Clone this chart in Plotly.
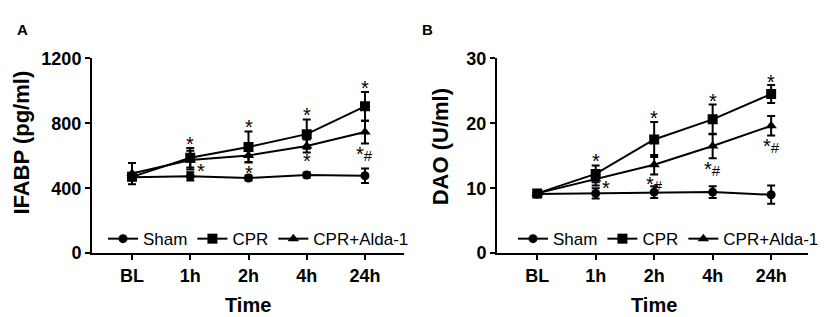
import plotly.graph_objects as go

time_labels = ["BL", "1h", "2h", "4h", "24h"]
xpos = [0, 1, 2, 3, 4]

# Panel A: IFABP (pg/ml)
ifabp_sham = [467, 473, 463, 481, 477]
ifabp_sham_err = [15, 25, 15, 15, 45]
ifabp_cpr = [470, 587, 654, 733, 904]
ifabp_cpr_err = [20, 60, 95, 90, 88]
ifabp_alda = [490, 573, 602, 660, 746]
ifabp_alda_err = [65, 58, 40, 40, 70]

# Panel B: DAO (U/ml)
dao_sham = [9.1, 9.2, 9.4, 9.4, 9.0]
dao_sham_err = [0.5, 0.8, 0.9, 0.9, 1.4]
dao_cpr = [9.2, 12.2, 17.5, 20.6, 24.5]
dao_cpr_err = [0.5, 1.3, 2.7, 2.3, 1.4]
dao_alda = [9.2, 11.4, 13.6, 16.5, 19.6]
dao_alda_err = [0.5, 1.0, 1.5, 1.9, 1.5]

# Significance labels (x, y, text)
ifabp_sig = [(1, 688, "*"), (1.18, 525, "*"), (2, 794, "*"), (2, 515, "*"),
             (3, 867, "*"), (3, 583, "*"), (4, 1038, "*"), (4, 631, "*#")]
dao_sig = [(1, 14.6, "*"), (1.17, 10.5, "*"), (2, 21.2, "*"), (2, 11.1, "*#"),
           (3, 23.9, "*"), (3, 13.4, "*#"), (4, 26.8, "*"), (4, 16.9, "*#")]

FONT = "Arial, Liberation Sans, sans-serif"
fig = go.Figure()

series = [("Sham", "circle", 9), ("CPR", "square", 10), ("CPR+Alda-1", "triangle-up", 10)]
dataA = [(ifabp_sham, ifabp_sham_err), (ifabp_cpr, ifabp_cpr_err), (ifabp_alda, ifabp_alda_err)]
dataB = [(dao_sham, dao_sham_err), (dao_cpr, dao_cpr_err), (dao_alda, dao_alda_err)]

for (name, sym, sz), (y, e) in zip(series, dataA):
    fig.add_trace(go.Scatter(x=xpos, y=y, name=name, mode="lines+markers",
                             line=dict(color="black", width=2),
                             marker=dict(symbol=sym, size=sz, color="black"),
                             error_y=dict(type="data", array=e, color="black", thickness=2, width=4),
                             xaxis="x", yaxis="y", legend="legend"))
for (name, sym, sz), (y, e) in zip(series, dataB):
    fig.add_trace(go.Scatter(x=xpos, y=y, name=name, mode="lines+markers",
                             line=dict(color="black", width=2),
                             marker=dict(symbol=sym, size=sz, color="black"),
                             error_y=dict(type="data", array=e, color="black", thickness=2, width=4),
                             xaxis="x2", yaxis="y2", legend="legend2"))

W, H = 829, 317


def sig_text(t):
    if t == "*#":
        return "<span style='font-size:20px'>*</span><span style='font-size:15px'>#</span>"
    return t


annotations = []
for (x, y, t) in ifabp_sig:
    annotations.append(dict(x=x, y=y, xref="x", yref="y", text=sig_text(t), showarrow=False,
                            font=dict(size=20, color="black", family=FONT), yshift=-3))
for (x, y, t) in dao_sig:
    annotations.append(dict(x=x, y=y, xref="x2", yref="y2", text=sig_text(t), showarrow=False,
                            font=dict(size=20, color="black", family=FONT), yshift=-3))
annotations += [
    dict(x=7/W, y=1-12/H, xref="paper", yref="paper", text="<b>A</b>", showarrow=False,
         font=dict(size=15, color="black", family=FONT), xanchor="left", yanchor="middle"),
    dict(x=412/W, y=1-12/H, xref="paper", yref="paper", text="<b>B</b>", showarrow=False,
         font=dict(size=15, color="black", family=FONT), xanchor="left", yanchor="middle"),
    dict(x=240/W, y=1-306/H, xref="paper", yref="paper", text="<b>Time</b>", showarrow=False,
         font=dict(size=20, color="black", family=FONT), xanchor="center", yanchor="middle"),
    dict(x=646/W, y=1-306/H, xref="paper", yref="paper", text="<b>Time</b>", showarrow=False,
         font=dict(size=20, color="black", family=FONT), xanchor="center", yanchor="middle"),
    dict(x=14/W, y=1-133/H, xref="paper", yref="paper", text="<b>IFABP (pg/ml)</b>", showarrow=False,
         textangle=-90, font=dict(size=22, color="black", family=FONT), xanchor="center", yanchor="middle"),
    dict(x=432/W, y=1-138/H, xref="paper", yref="paper", text="<b>DAO (U/ml)</b>", showarrow=False,
         textangle=-90, font=dict(size=22, color="black", family=FONT), xanchor="center", yanchor="middle"),
]

xcommon = dict(tickmode="array", tickvals=xpos, ticktext=[f"<b>{t}</b>" for t in time_labels],
               showline=True, linecolor="black", linewidth=2, ticks="outside", ticklen=5,
               tickwidth=2, tickcolor="black", showgrid=False, zeroline=False,
               tickfont=dict(size=18, color="black", family=FONT), fixedrange=True)
ycommon = dict(showline=True, linecolor="black", linewidth=2, ticks="outside", ticklen=5,
               tickwidth=2, tickcolor="black", showgrid=False, zeroline=False,
               tickfont=dict(size=18, color="black", family=FONT))

ydom = [1-251/H, 1-43/H]
fig.update_layout(
    width=W, height=H, margin=dict(l=0, r=0, t=0, b=0),
    paper_bgcolor="white", plot_bgcolor="white",
    showlegend=True,
    xaxis=dict(xcommon, domain=[84/W, 396/W], range=[-0.687, 4.67], anchor="y"),
    yaxis=dict(ycommon, domain=ydom, range=[0, 1200], tickvals=[0, 400, 800, 1200],
               ticktext=["<b>0</b>", "<b>400</b>", "<b>800</b>", "<b>1200</b>"], anchor="x"),
    xaxis2=dict(xcommon, domain=[489/W, 800/W], range=[-0.687, 4.63], anchor="y2"),
    yaxis2=dict(ycommon, domain=ydom, range=[0, 30], tickvals=[0, 10, 20, 30],
                ticktext=["<b>0</b>", "<b>10</b>", "<b>20</b>", "<b>30</b>"], anchor="x2"),
    legend=dict(orientation="h", x=95/W, y=1-236/H, xanchor="left", yanchor="middle",
                font=dict(size=17, color="black", family=FONT), bgcolor="rgba(0,0,0,0)",
                itemsizing="trace"),
    legend2=dict(orientation="h", x=505/W, y=1-236/H, xanchor="left", yanchor="middle",
                 font=dict(size=17, color="black", family=FONT), bgcolor="rgba(0,0,0,0)",
                 itemsizing="trace"),
    annotations=annotations,
)

fig.write_html("out.html")
